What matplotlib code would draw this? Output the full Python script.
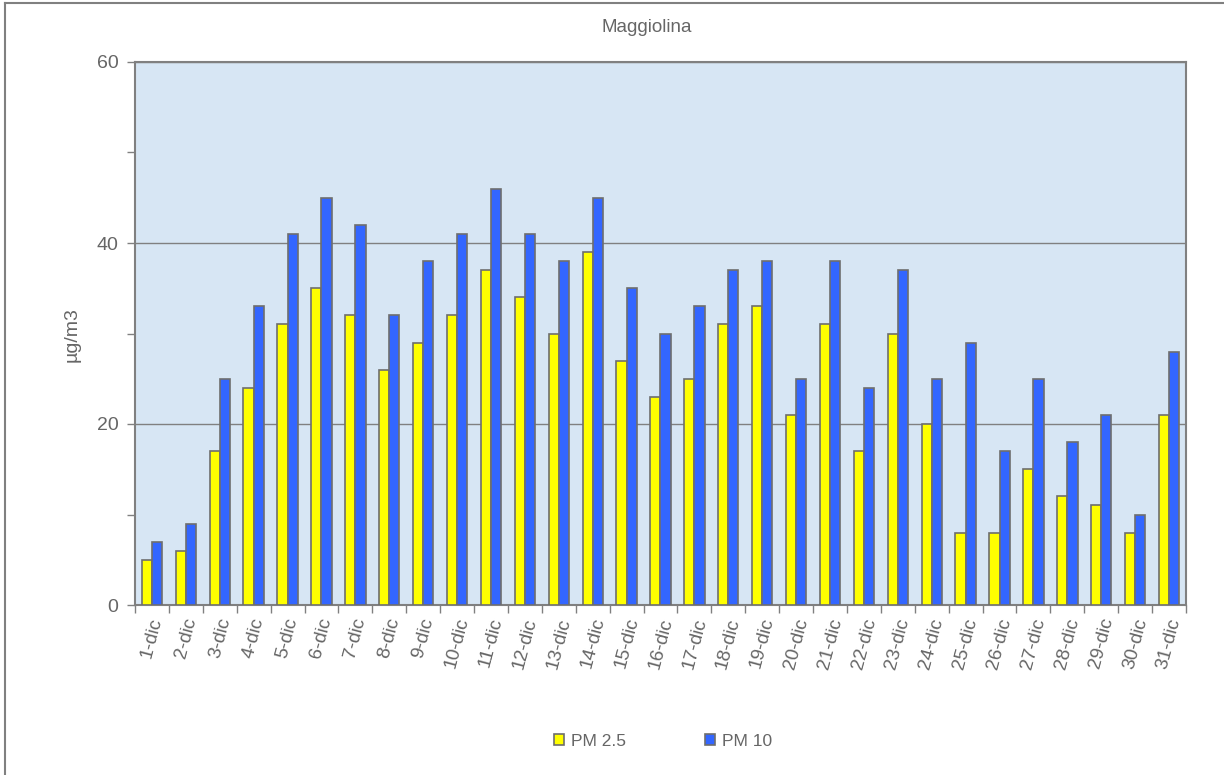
import matplotlib
matplotlib.use("Agg")
import matplotlib.pyplot as plt
from matplotlib.lines import Line2D
import numpy as np

plt.rcParams['font.family'] = ['Liberation Sans', 'DejaVu Sans']

title = "Maggiolina"
ylabel = "µg/m3"
days = [f"{d}-dic" for d in range(1, 32)]
pm25 = [5, 6, 17, 24, 31, 35, 32, 26, 29, 32, 37, 34, 30, 39, 27, 23,
        25, 31, 33, 21, 31, 17, 30, 20, 8, 8, 15, 12, 11, 8, 21]
pm10 = [7, 9, 25, 33, 41, 45, 42, 32, 38, 41, 46, 41, 38, 45, 35, 30,
        33, 37, 38, 25, 38, 24, 37, 25, 29, 17, 25, 18, 21, 10, 28]
series_names = ["PM 2.5", "PM 10"]
yticks = [0, 20, 40, 60]

W, H = 1224, 775
fig = plt.figure(figsize=(W / 100, H / 100), dpi=100)
fig.patch.set_facecolor('white')

txt = '#666666'
edge = '#6e6e6e'

ax = fig.add_axes([135 / W, 1 - 605 / H, (1186 - 135) / W, (605 - 62) / H])
ax.set_facecolor('#d7e6f4')

x = np.arange(len(days))
bw = 0.3
ax.bar(x - bw / 2, pm25, width=bw, color='#ffff00', edgecolor=edge, linewidth=1.2, zorder=3)
ax.bar(x + bw / 2, pm10, width=bw, color='#3366ff', edgecolor=edge, linewidth=1.2, zorder=3)

ax.set_xlim(-0.5, len(days) - 0.5)
ax.set_ylim(0, 60)
ax.set_yticks(yticks)
ax.set_yticks([10, 30, 50], minor=True)
ax.yaxis.grid(True, which='major', color='#808080', linewidth=1, zorder=1)
ax.set_axisbelow(True)

ax.set_xticks(x)
ax.set_xticklabels(days, rotation=75, ha='center', va='top', fontsize=13.8, color=txt)
ax.set_xticks(np.arange(-0.5, len(days)), minor=True)
ax.tick_params(axis='x', which='major', length=0, pad=8)
ax.tick_params(axis='x', which='minor', length=6, width=1, color='#808080', direction='out')
ax.tick_params(axis='y', which='both', length=6, width=1, color='#808080', direction='out',
               labelsize=14, labelcolor=txt, pad=6)

for s in ax.spines.values():
    s.set_color('#808080')
    s.set_linewidth(1.5)

fig.text(647 / W, 1 - 28 / H, title, ha='center', va='center', fontsize=13.5, color=txt)
fig.text(72 / W, 1 - 335 / H, ylabel, ha='center', va='center', rotation=90, fontsize=14, color=txt)

handles = [
    plt.Rectangle((0, 0), 1, 1, facecolor='#ffff00', edgecolor=edge, linewidth=1.2),
    plt.Rectangle((0, 0), 1, 1, facecolor='#3366ff', edgecolor=edge, linewidth=1.2),
]
leg = fig.legend(handles, series_names, loc='center', bbox_to_anchor=(663 / W, 1 - 741 / H),
                 ncol=2, frameon=False, fontsize=12.5, handlelength=0.6, handleheight=0.6,
                 handletextpad=0.4, columnspacing=4.5)
for t in leg.get_texts():
    t.set_color(txt)

# figure border (top and left visible)
fig.add_artist(Line2D([5 / W, 1.0], [1 - 3 / H, 1 - 3 / H], color='#808080', linewidth=1.5,
                      transform=fig.transFigure))
fig.add_artist(Line2D([5 / W, 5 / W], [0, 1 - 3 / H], color='#808080', linewidth=1.5,
                      transform=fig.transFigure))

fig.savefig("out.png", dpi=100)
